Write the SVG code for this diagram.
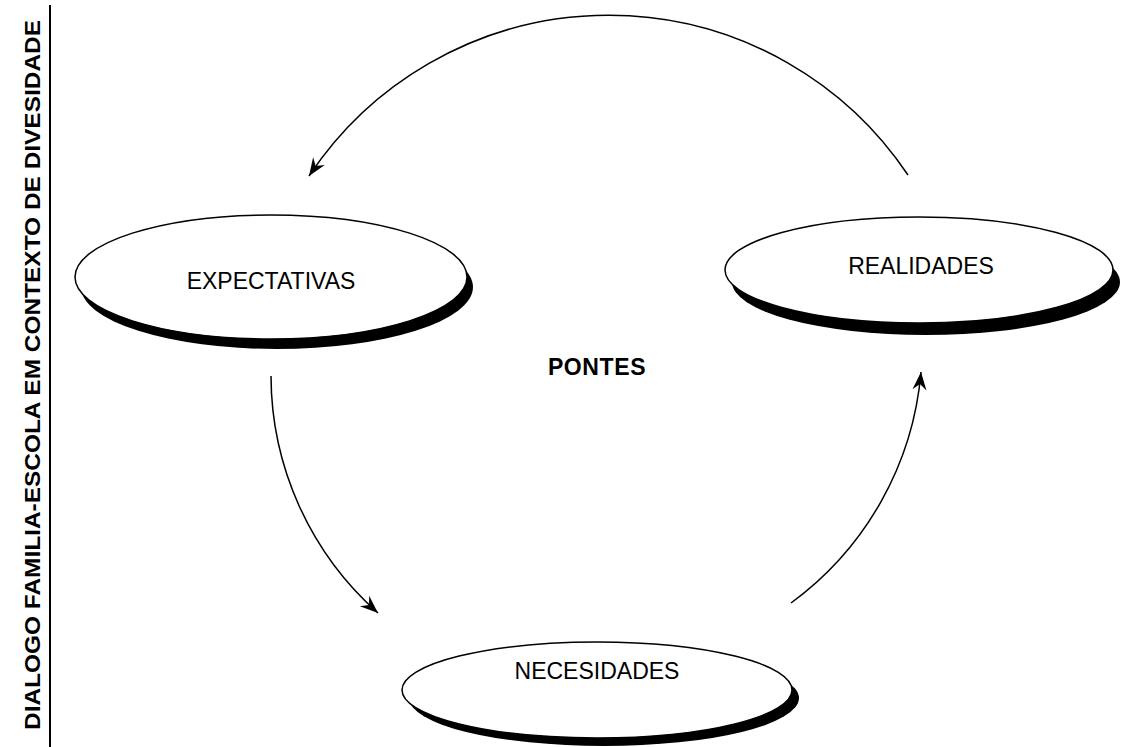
<svg xmlns="http://www.w3.org/2000/svg" width="1121" height="747" viewBox="0 0 1121 747">
  <style>
    .shadow { fill: #000; }
    .body { fill: #fff; stroke: #000; stroke-width: 1.5; }
    .label { font-family: "Liberation Sans", Arial, sans-serif; font-size: 23px; fill: #000; text-anchor: middle; }
    .flow { fill: none; stroke: #000; stroke-width: 1.5; marker-end: url(#barb); }
  </style>
  <defs>
    <marker id="barb" markerUnits="userSpaceOnUse" markerWidth="22" markerHeight="18" viewBox="-19 -9 20 18" refX="0" refY="0" orient="auto">
      <path d="M0,0 L-18,-7 L-12,0 L-18,7 Z" fill="#000"/>
    </marker>
  </defs>

  <rect width="1121" height="747" fill="#fff"/>

  <!-- side title and rule -->
  <g id="title">
    <text x="0" y="0" transform="translate(40,375) rotate(-90)" font-family="Liberation Sans, Arial, sans-serif" font-weight="bold" font-size="22" text-anchor="middle" textLength="710" lengthAdjust="spacingAndGlyphs">DIALOGO FAMILIA-ESCOLA EM CONTEXTO DE DIVESIDADE</text>
    <line x1="50" y1="5" x2="50" y2="747" stroke="#000" stroke-width="2"/>
  </g>

  <g id="connectors">
    <path class="flow" d="M908,175 A360,360 0 0 0 309,176"/>
    <path class="flow" d="M271,376 A318,318 0 0 0 378,613"/>
    <path class="flow" d="M791,603 A320,320 0 0 0 921,372"/>
  </g>

  <g id="expectativas">
    <ellipse class="shadow" cx="277" cy="287" rx="196" ry="62"/>
    <ellipse class="body" cx="271" cy="277" rx="196" ry="62"/>
    <text class="label" x="271" y="289">EXPECTATIVAS</text>
  </g>

  <g id="realidades">
    <ellipse class="shadow" cx="926" cy="282" rx="194" ry="53"/>
    <ellipse class="body" cx="919" cy="270" rx="194" ry="53"/>
    <text class="label" x="921" y="274">REALIDADES</text>
  </g>

  <g id="necesidades">
    <ellipse class="shadow" cx="604" cy="698" rx="195" ry="48"/>
    <ellipse class="body" cx="597" cy="690" rx="195" ry="48"/>
    <text class="label" x="597" y="679">NECESIDADES</text>
  </g>

  <g id="pontes">
    <text x="597" y="375" font-family="Liberation Sans, Arial, sans-serif" font-weight="bold" font-size="23" text-anchor="middle" letter-spacing="0.6">PONTES</text>
  </g>
</svg>
